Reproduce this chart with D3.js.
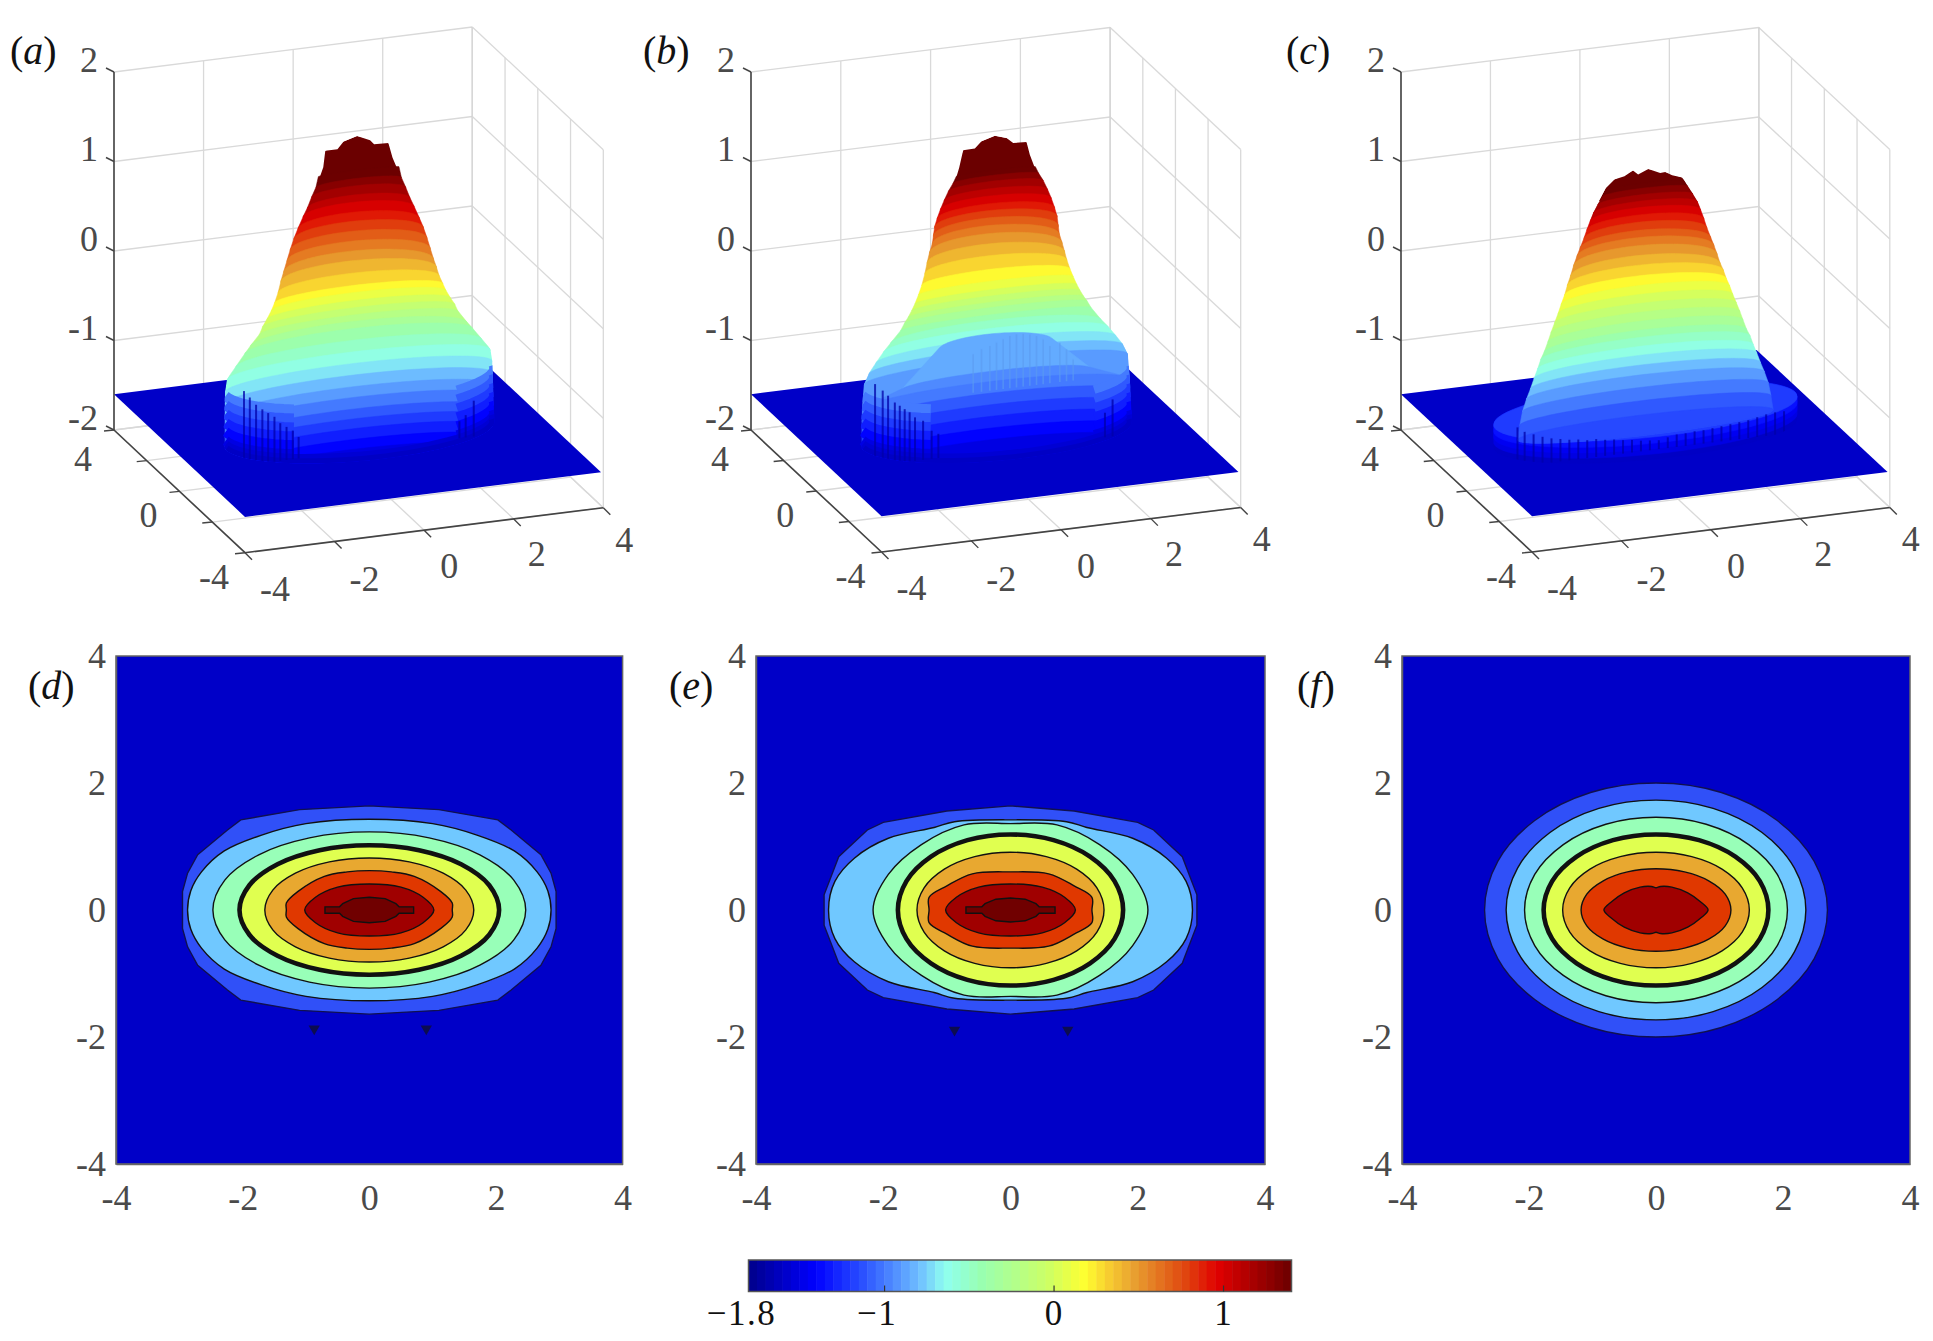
<!DOCTYPE html>
<html>
<head>
<meta charset="utf-8">
<script src="https://cdn.jsdelivr.net/npm/d3@7"></script>
<style>
  html, body { margin: 0; background: #fff; }
  svg { display: block; }
  text { font-family: "Liberation Serif", serif; }
</style>
</head>
<body>
<svg id="chart" width="1933" height="1341"></svg>
<script>
// axis ticks
const tickValuesXY = [-4, -2, 0, 2, 4];
const tickValuesZ = [-2, -1, 0, 1, 2];
const colorbarTicks = [-1.8, -1, 0, 1];

// colormap (fraction along the bar -> colour)
const jetFractions = [0, 0.123, 0.21, 0.316, 0.362, 0.43, 0.55, 0.62, 0.66, 0.71, 0.8, 0.864, 1];
const jetColors = ["#00008a", "#0000ff", "#2a50ff", "#70c0ff", "#8ffff0", "#99ffb0", "#ccff66", "#ffff30", "#f8d030", "#e8a030", "#e04a10", "#e00000", "#6b0000"];
const colorMin = -1.8;
const colorMax = 1.404;
const sheetLevel = -1.6;

// the steep foot of (a) and (b): colour level equals height here
const footLevels = [-1, -1.1, -1.2, -1.3, -1.4, -1.5, -1.55, -1.6];
const footWholeArc = [false, false, false, false, false, false, true, true];

// (a) surface rings, top to bottom: colour level, height, x and y half widths
const ringLevelsA = [1.4, 1.3, 1.2, 1.1, 1, 0.9, 0.8, 0.7, 0.6, 0.5, 0.4, 0.3, 0.2, 0.1, 0, -0.1, -0.2, -0.3, -0.4, -0.5, -0.6, -0.7, -0.8, -0.9, -1, -1.1, -1.2, -1.3, -1.4, -1.5, -1.6];
const ringZA = [1.32, 1.2, 1.09, 0.97, 0.87, 0.74, 0.63, 0.51, 0.39, 0.27, 0.17, 0.06, -0.04, -0.12, -0.21, -0.29, -0.37, -0.5, -0.58, -0.71, -0.84, -0.97, -1.1, -1.23, -1.35, -1.48, -1.59, -1.7, -1.82, -1.93, -2.06];
const ringSemiXA = [0.9, 0.95, 1.04, 1.13, 1.22, 1.33, 1.42, 1.5, 1.57, 1.64, 1.71, 1.78, 1.87, 1.94, 2.04, 2.14, 2.21, 2.4, 2.53, 2.73, 2.93, 2.97, 2.97, 2.97, 2.97, 2.97, 2.97, 2.97, 2.97, 2.97, 2.97];
const ringSemiYA = [0.1, 0.25, 0.4, 0.5, 0.6, 0.7, 0.75, 0.8, 0.85, 0.9, 0.85, 0.7, 0.5, 0.5, 0.5, 0.5, 0.5, 0.8, 0.8, 0.8, 0.8, 0.8, 0.8, 0.8, 0.8, 0.8, 0.8, 0.8, 0.8, 0.8, 0.8];
const capA = [[-0.95, 1.2], [-0.79, 1.42], [-0.745, 1.6], [-0.473, 1.6], [-0.336, 1.68], [-0.036, 1.72], [0.255, 1.655], [0.345, 1.605], [0.664, 1.6], [0.755, 1.43], [0.845, 1.32], [0.95, 1.2]];
const streaksA = [[-2.56, -0.97], [-2.43, -1.05], [-2.29, -1.14], [-2.15, -1.2], [-2.02, -1.25], [-1.88, -1.3], [-1.75, -1.38], [-1.61, -1.43], [-1.47, -1.48], [-1.34, -1.56], [2.57, -1.4], [2.39, -1.55], [2.25, -1.61]];
const baseA = [2.97, 1.65];

// (b)
const ringLevelsB = [1.4, 1.3, 1.2, 1.1, 1, 0.9, 0.8, 0.7, 0.6, 0.5, 0.4, 0.3, 0.2, 0.1, 0, -0.1, -0.2, -0.3, -0.4, -0.5, -0.6, -0.7, -0.8, -0.9, -0.85, -0.95, -1, -1.1, -1.2, -1.3, -1.4, -1.5, -1.6];
const ringZB = [1.32, 1.245, 1.16, 1.06, 0.96, 0.855, 0.76, 0.66, 0.565, 0.465, 0.36, 0.255, 0.14, 0.045, -0.05, -0.12, -0.19, -0.25, -0.33, -0.47, -0.56, -0.67, -0.78, -0.89, -0.62, -1, -1.172, -1.302, -1.432, -1.562, -1.693, -1.823, -1.968];
const ringSemiXB = [0.88, 0.95, 1.05, 1.14, 1.22, 1.29, 1.34, 1.36, 1.38, 1.44, 1.5, 1.56, 1.64, 1.72, 1.8, 1.87, 1.95, 2.03, 2.12, 2.33, 2.49, 2.66, 2.82, 2.93, 1.25, 2.1, 2.97, 2.97, 2.97, 2.97, 2.97, 2.97, 2.97];
const ringSemiYB = [0.1, 0.2, 0.3, 0.4, 0.5, 0.6, 0.7, 0.8, 0.85, 0.9, 0.85, 0.7, 0.5, 0.3, 0.3, 0.3, 0.3, 0.3, 0.3, 0.7, 0.7, 0.7, 0.7, 0.7, 0.7, 0.5, 0.8, 0.8, 0.8, 0.8, 0.8, 0.8, 0.8];
const capB = [[-0.95, 1.2], [-0.817, 1.413], [-0.728, 1.603], [-0.468, 1.606], [-0.319, 1.678], [-0.022, 1.721], [0.238, 1.68], [0.386, 1.615], [0.683, 1.608], [0.757, 1.462], [0.869, 1.306], [0.95, 1.2]];
const streaksB = [[-2.69, -0.887], [-2.52, -0.97], [-2.4, -1.035], [-2.25, -1.12], [-2.14, -1.163], [-2.03, -1.208], [-1.92, -1.25], [-1.8, -1.314], [-1.62, -1.363], [-1.43, -1.486], [-1.28, -1.53], [2.6, -1.387], [2.43, -1.525]];
const domeStreaksB = [[-0.505, -0.69], [-0.32, -0.645], [-0.134, -0.62], [0.015, -0.592], [0.163, -0.564], [0.312, -0.536], [0.46, -0.527], [0.609, -0.529], [0.757, -0.546], [0.906, -0.574], [1.054, -0.62], [1.203, -0.704], [1.425, -0.68], [1.574, -0.764], [1.722, -0.885]];
const baseB = [2.97, 1.65];

// (c) has a low disc under the mound
const discLevelsC = [-1.6, -1.5, -1.45, -1.35, -1.2];
const discZC = [-1.6, -1.54, -1.48, -1.42, -1.35];
const discSemiXC = [3.35, 3.35, 3.35, 3.35, 3.35];
const discSemiYC = [1.6, 1.6, 1.6, 1.6, 1.6];
const ringLevelsC = [1.4, 1.3, 1.2, 1.1, 1, 0.9, 0.8, 0.7, 0.6, 0.5, 0.4, 0.3, 0.2, 0.1, 0, -0.1, -0.2, -0.3, -0.4, -0.5, -0.6, -0.7, -0.8, -0.9, -1, -1.1, -1.15];
const ringZC = [1.175, 1.1, 1.01, 0.92, 0.83, 0.73, 0.63, 0.52, 0.43, 0.33, 0.22, 0.13, 0.03, -0.06, -0.16, -0.26, -0.36, -0.46, -0.57, -0.65, -0.75, -0.85, -0.96, -1.07, -1.2, -1.35, -1.51];
const ringSemiXC = [0.86, 0.95, 1.06, 1.16, 1.22, 1.29, 1.35, 1.43, 1.5, 1.57, 1.64, 1.72, 1.79, 1.87, 1.94, 2.02, 2.1, 2.17, 2.25, 2.33, 2.4, 2.48, 2.56, 2.65, 2.74, 2.8, 2.85];
const ringSemiYC = [0.1, 0.2, 0.3, 0.4, 0.5, 0.6, 0.7, 0.8, 0.85, 0.9, 0.9, 0.8, 0.7, 0.6, 0.6, 0.6, 0.6, 0.6, 0.65, 0.65, 0.65, 0.65, 0.65, 0.65, 0.6, 0.6, 0.6];
const capC = [[-1.04, 1.056], [-0.886, 1.193], [-0.696, 1.275], [-0.468, 1.297], [-0.278, 1.349], [-0.163, 1.297], [0.065, 1.345], [0.331, 1.283], [0.445, 1.288], [0.597, 1.242], [0.825, 1.204], [0.977, 1.057], [1.04, 0.95]];
const streaksC = [[-2.86, -1.36], [-2.7, -1.42], [-2.5, -1.46], [-2.3, -1.5], [-2.1, -1.53], [-1.9, -1.55], [-1.7, -1.57], [-1.5, -1.58], [-1.3, -1.6], [-1.1, -1.6], [-0.9, -1.62], [-0.7, -1.63], [-0.5, -1.65], [-0.3, -1.66], [-0.1, -1.68], [0.1, -1.69], [0.3, -1.7], [0.5, -1.68], [0.7, -1.66], [0.9, -1.66], [1.1, -1.65], [1.3, -1.65], [1.5, -1.64], [1.7, -1.63], [1.9, -1.62], [2.1, -1.61], [2.3, -1.6], [2.5, -1.58], [2.7, -1.56], [2.9, -1.55], [3.1, -1.55]];
const baseC = [3.35, 1.6];

// contour rings: first quadrant only, from (0, b) round to (a, 0), outermost first
const contourFills = ["#3050f8", "#70c8ff", "#98ffb8", "#e0ff50", "#e8a830", "#e03800", "#a00000", "#700000"];
const contoursD = [
  [[0, 1.64], [1.1, 1.58], [2.03, 1.42], [2.24, 1.26], [2.71, 0.87], [2.87, 0.58], [2.95, 0.29], [2.95, 0]],
  [[0, 1.43], [1, 1.36], [1.7, 1.18], [2.29, 0.93], [2.65, 0.6], [2.82, 0.3], [2.87, 0]],
  [[0, 1.23], [0.945, 1.136], [1.746, 0.87], [2.282, 0.471], [2.47, 0]],
  [[0, 1.02], [0.785, 0.942], [1.45, 0.721], [1.894, 0.39], [2.05, 0]],
  [[0, 0.82], [0.631, 0.758], [1.167, 0.58], [1.524, 0.314], [1.65, 0]],
  [[0, 0.62], [0.35, 0.6], [0.71, 0.53], [1.13, 0.29], [1.31, 0.11], [1.31, 0]],
  [[0, 0.41], [0.5, 0.36], [0.85, 0.2], [1.02, 0]],
  [[0, 0.2], [0.25, 0.18], [0.42, 0.1], [0.47, 0.05], [0.7, 0.05], [0.7, 0]],
];
const contoursE = [
  [[0, 1.64], [1, 1.56], [2, 1.38], [2.25, 1.26], [2.7, 0.84], [2.83, 0.5], [2.93, 0.24], [2.93, 0]],
  [[0, 1.42], [0.88, 1.39], [1.2, 1.3], [1.92, 1.13], [2.45, 0.82], [2.76, 0.45], [2.86, 0]],
  [[0, 1.36], [0.73, 1.34], [1.4, 1.03], [1.92, 0.56], [2.16, 0]],
  [[0, 1.19], [0.677, 1.1], [1.25, 0.84], [1.635, 0.455], [1.77, 0]],
  [[0, 0.91], [0.563, 0.84], [1.04, 0.643], [1.358, 0.348], [1.47, 0]],
  [[0, 0.6], [0.6, 0.57], [1, 0.38], [1.28, 0.2], [1.28, 0]],
  [[0, 0.41], [0.5, 0.36], [0.85, 0.2], [1.02, 0]],
  [[0, 0.19], [0.23, 0.17], [0.4, 0.1], [0.45, 0.05], [0.7, 0.05], [0.7, 0]],
];
const contoursF = [
  [[0, 2], [1.03, 1.85], [1.91, 1.41], [2.49, 0.77], [2.7, 0]],
  [[0, 1.73], [0.9, 1.6], [1.67, 1.22], [2.18, 0.66], [2.36, 0]],
  [[0, 1.46], [0.79, 1.35], [1.46, 1.03], [1.91, 0.56], [2.07, 0]],
  [[0, 1.19], [0.677, 1.1], [1.25, 0.84], [1.635, 0.455], [1.77, 0]],
  [[0, 0.91], [0.563, 0.84], [1.04, 0.643], [1.358, 0.348], [1.47, 0]],
  [[0, 0.65], [0.45, 0.6], [0.83, 0.46], [1.09, 0.25], [1.18, 0]],
  [[0, 0.35], [0.07, 0.37], [0.25, 0.36], [0.5, 0.27], [0.7, 0.13], [0.82, 0]],
];
const specksD = [[-0.87, -1.87], [0.9, -1.87]];
const specksE = [[-0.88, -1.89], [0.9, -1.89]];

const jet = d3.scaleLinear()
  .domain(jetFractions.map((f) => colorMin + f * (colorMax - colorMin)))
  .range(jetColors)
  .clamp(true);

const svg = d3.select("#chart");
svg.append("rect").attr("width", 1933).attr("height", 1341).attr("fill", "#fff");

const labelColor = "#4a4a4a";
const gridColor = "#d9d9d9";
const axisColor = "#444";
const sheetColor = "#0000c8";

// small nudges so labels sit where the original put them
const xLabelOffsets = [[30, 36], [30, 38], [25, 36], [23, 35], [21, 32]];
const yLabelDy = [24, 24, 29];

function panelLabel(x, y, letter) {
  const t = svg.append("text").attr("x", x).attr("y", y).attr("font-size", 40).attr("fill", "#111");
  t.append("tspan").text("(");
  t.append("tspan").attr("font-style", "italic").text(letter);
  t.append("tspan").text(")");
}

let clipCount = 0;

// frame is the three floor corners of the box in pixels plus pixels per z unit
function drawSurface(p) {
  const g = svg.append("g");
  const xToX = d3.scaleLinear().domain([-4, 4]).range([0, p.right[0] - p.front[0]]);
  const xToY = d3.scaleLinear().domain([-4, 4]).range([0, p.right[1] - p.front[1]]);
  const yToX = d3.scaleLinear().domain([-4, 4]).range([0, p.left[0] - p.front[0]]);
  const yToY = d3.scaleLinear().domain([-4, 4]).range([0, p.left[1] - p.front[1]]);
  const zToY = d3.scaleLinear().domain([-2, 2]).range([0, -p.zSpan]);
  const project = (x, y, z) => [
    p.front[0] + xToX(x) + yToX(y),
    p.front[1] + xToY(x) + yToY(y) + zToY(z),
  ];
  const line = d3.line();

  const seg = (parent, a, b, color, w) =>
    parent.append("line")
      .attr("x1", a[0]).attr("y1", a[1])
      .attr("x2", b[0]).attr("y2", b[1])
      .attr("stroke", color).attr("stroke-width", w);

  // walls and floor grid
  tickValuesZ.forEach((z) => {
    seg(g, project(-4, 4, z), project(4, 4, z), gridColor, 1.3);
    seg(g, project(4, 4, z), project(4, -4, z), gridColor, 1.3);
  });
  tickValuesXY.forEach((v) => {
    seg(g, project(v, 4, -2), project(v, 4, 2), v === 4 ? "#c4c4c4" : gridColor, 1.3);
    seg(g, project(4, v, -2), project(4, v, 2), gridColor, 1.3);
    seg(g, project(v, -4, -2), project(v, 4, -2), gridColor, 1.3);
    seg(g, project(-4, v, -2), project(4, v, -2), gridColor, 1.3);
  });

  // flat part of the surface
  const sheet = [project(-4, -4, sheetLevel), project(3.95, -4, sheetLevel), project(3.95, 4, sheetLevel), project(-4, 4, sheetLevel)];
  g.append("path").attr("d", line(sheet) + "Z").attr("fill", sheetColor);

  const outline = (z, a, b) =>
    d3.range(0, 72).map((i) => {
      const t = (i / 72) * 2 * Math.PI;
      return project(a * Math.cos(t), b * Math.sin(t), z);
    });

  // the mound never reaches past its foot on the sheet
  const capPoints = p.cap.map((d) => project(d[0], 0, d[1]));
  const clipId = "mound" + clipCount++;
  const clipPts = [...outline(sheetLevel, p.base[0], p.base[1]), ...capPoints];
  p.levels.forEach((l, i) => {
    if (p.z[i] > sheetLevel) clipPts.push(...outline(p.z[i], p.semiX[i], p.semiY[i]));
  });
  if (p.underLevels) {
    p.underLevels.forEach((l, i) => clipPts.push(...outline(p.underZ[i], p.underX[i], p.underY[i])));
  }
  g.append("clipPath").attr("id", clipId).append("path").attr("d", line(d3.polygonHull(clipPts)) + "Z");
  const mound = g.append("g").attr("clip-path", `url(#${clipId})`);

  // each band runs from its ring down to the next ring at least as wide
  const stack = (levels, z, sx, sy) => {
    const rings = levels.map((l, i) => outline(z[i], sx[i], sy[i]));
    levels.forEach((l, i) => {
      const next = d3.range(i + 1, levels.length).find((j) => sx[j] >= sx[i]);
      const pts = next === undefined ? rings[i] : d3.polygonHull([...rings[i], ...rings[next]]);
      const c = jet(l);
      mound.append("path").attr("d", line(pts) + "Z").attr("fill", c).attr("stroke", c).attr("stroke-width", 0.5);
    });
  };

  if (p.underLevels) stack(p.underLevels, p.underZ, p.underX, p.underY);

  // peak outline sits behind the rings
  mound.append("path").attr("d", line(capPoints) + "Z").attr("fill", jet(colorMax));

  stack(p.levels, p.z, p.semiX, p.semiY);

  // darker foot along the front of the wall: outer parts only, except right at the sheet
  if (p.foot) {
    p.foot.forEach((l, i) => {
      const pts = outline(l, p.base[0], p.base[1]);
      const arcs = footWholeArc[i] ? [pts.slice(36, 72)] : [pts.slice(36, 47), pts.slice(61, 72)];
      arcs.forEach((a) =>
        mound.append("path").attr("d", line(a)).attr("fill", "none")
          .attr("stroke", jet(l)).attr("stroke-width", 10));
    });
  }

  if (p.domeStreaks) {
    p.domeStreaks.forEach((d) =>
      seg(mound, project(d[0], 0, d[1]), project(d[0], 0, -1.12), "#5c9cf0", 1.6).attr("opacity", 0.6));
  }
  p.streaks.forEach((d) =>
    seg(mound, project(d[0], 0, d[1]), project(d[0], 0, -1.8), "#0000a8", 2).attr("opacity", 0.75));

  // axes
  seg(g, project(-4, 4, -2), project(-4, 4, 2), axisColor, 1.6);
  seg(g, project(-4, -4, -2), project(-4, 4, -2), axisColor, 1.6);
  seg(g, project(-4, -4, -2), project(4, -4, -2), axisColor, 1.6);

  const small = (a, dx, dy) => seg(g, a, [a[0] + dx, a[1] + dy], axisColor, 1.4);
  tickValuesZ.forEach((z) => small(project(-4, 4, z), -8, -4));
  tickValuesXY.forEach((v) => {
    small(project(-4, v, -2), -10, 1);
    small(project(v, -4, -2), 7, 7);
  });

  const label = (x, y, s) =>
    g.append("text").attr("x", x).attr("y", y).attr("font-size", 36)
      .attr("fill", labelColor).attr("text-anchor", "middle").attr("dy", "0.33em").text(s);
  tickValuesZ.forEach((z) => {
    const q = project(-4, 4, z);
    g.append("text").attr("x", q[0] - 16).attr("y", q[1] - 12).attr("font-size", 36)
      .attr("fill", labelColor).attr("text-anchor", "end").attr("dy", "0.33em").text(z);
  });
  [-4, 0, 4].forEach((v, i) => {
    const q = project(-4, v, -2);
    label(q[0] - 31, q[1] + yLabelDy[i], v);
  });
  tickValuesXY.forEach((v, i) => {
    const q = project(v, -4, -2);
    label(q[0] + xLabelOffsets[i][0], q[1] + xLabelOffsets[i][1], v);
  });
}

function drawContour(p) {
  const x = d3.scaleLinear().domain([-4, 4]).range([p.x0, p.x1]);
  const y = d3.scaleLinear().domain([-4, 4]).range([p.y1, p.y0]);
  const g = svg.append("g");

  g.append("rect")
    .attr("x", p.x0).attr("y", p.y0)
    .attr("width", p.x1 - p.x0).attr("height", p.y1 - p.y0)
    .attr("fill", sheetColor);

  const mirrored = (q) => [
    ...q.map((d) => [d[0], d[1]]),
    ...q.slice(0, -1).reverse().map((d) => [d[0], -d[1]]),
    ...q.slice(1).map((d) => [-d[0], -d[1]]),
    ...q.slice(1, -1).reverse().map((d) => [-d[0], d[1]]),
  ];
  const smooth = d3.line().x((d) => x(d[0])).y((d) => y(d[1])).curve(d3.curveCatmullRomClosed.alpha(0.5));
  const straight = d3.line().x((d) => x(d[0])).y((d) => y(d[1])).curve(d3.curveLinearClosed);

  p.rings.forEach((q, i) => {
    const polygonal = p.straight.includes(i);
    g.append("path")
      .attr("d", (polygonal ? straight : smooth)(mirrored(q)))
      .attr("fill", contourFills[i])
      .attr("stroke", i === 0 ? "#101050" : "#111")
      .attr("stroke-width", i === 3 ? 4.6 : 1.4);
  });

  (p.specks || []).forEach((d) => {
    g.append("path")
      .attr("d", d3.symbol(d3.symbolTriangle, 55)())
      .attr("transform", `translate(${x(d[0])},${y(d[1])}) rotate(180)`)
      .attr("fill", "#0c0c50");
  });

  const yAxis = g.append("g").attr("transform", `translate(${p.x0},0)`)
    .call(d3.axisLeft(y).tickValues(tickValuesXY).tickSize(0).tickPadding(10).tickFormat((d) => String(d)));
  const xAxis = g.append("g").attr("transform", `translate(0,${p.y1})`)
    .call(d3.axisBottom(x).tickValues(tickValuesXY).tickSize(0).tickPadding(20).tickFormat((d) => String(d)));
  [yAxis, xAxis].forEach((a) => {
    a.select(".domain").attr("stroke", "#666").attr("stroke-width", 1.5);
    a.selectAll("text").attr("font-size", 36).attr("fill", labelColor).attr("font-family", '"Liberation Serif", serif');
  });
  g.append("rect")
    .attr("x", p.x0).attr("y", p.y0)
    .attr("width", p.x1 - p.x0).attr("height", p.y1 - p.y0)
    .attr("fill", "none").attr("stroke", "#666").attr("stroke-width", 1.5);
}

drawSurface({
  left: [114, 430], front: [245, 552.7], right: [603.3, 507.7], zSpan: 358,
  levels: ringLevelsA, z: ringZA, semiX: ringSemiXA, semiY: ringSemiYA,
  cap: capA, streaks: streaksA, base: baseA, foot: footLevels,
});
drawSurface({
  left: [751, 430], front: [881.5, 552], right: [1240.7, 507.5], zSpan: 358,
  levels: ringLevelsB, z: ringZB, semiX: ringSemiXB, semiY: ringSemiYB,
  cap: capB, streaks: streaksB, domeStreaks: domeStreaksB, base: baseB, foot: footLevels,
});
drawSurface({
  left: [1401, 430], front: [1532, 552], right: [1889.8, 507.5], zSpan: 358,
  levels: ringLevelsC, z: ringZC, semiX: ringSemiXC, semiY: ringSemiYC,
  underLevels: discLevelsC, underZ: discZC, underX: discSemiXC, underY: discSemiYC,
  cap: capC, streaks: streaksC, base: baseC,
});

drawContour({ x0: 116, x1: 622.6, y0: 656, y1: 1164, rings: contoursD, straight: [0, 7], specks: specksD });
drawContour({ x0: 756, x1: 1265, y0: 656, y1: 1164, rings: contoursE, straight: [0, 7], specks: specksE });
drawContour({ x0: 1402, x1: 1910, y0: 656, y1: 1164, rings: contoursF, straight: [] });

panelLabel(10, 64, "a");
panelLabel(643, 64, "b");
panelLabel(1286, 64, "c");
panelLabel(28, 699, "d");
panelLabel(669, 699, "e");
panelLabel(1297, 699, "f");

// colorbar, 64 steps like the original colormap
const barX = d3.scaleLinear().domain([colorMin, colorMax]).range([748.5, 1291.5]);
const barTop = 1260;
const barBottom = 1291.5;
const barG = svg.append("g");
const stepCount = 64;
const barSteps = d3.range(stepCount);
barG.selectAll("rect.step").data(barSteps).join("rect")
  .attr("class", "step")
  .attr("x", (i) => barX(colorMin + (i / stepCount) * (colorMax - colorMin)))
  .attr("y", barTop)
  .attr("width", (barX(colorMax) - barX(colorMin)) / stepCount + 0.5)
  .attr("height", barBottom - barTop)
  .attr("fill", (i) => jet(colorMin + ((i + 0.5) / stepCount) * (colorMax - colorMin)));
barG.append("rect")
  .attr("x", barX(colorMin)).attr("y", barTop)
  .attr("width", barX(colorMax) - barX(colorMin)).attr("height", barBottom - barTop)
  .attr("fill", "none").attr("stroke", "#555").attr("stroke-width", 1.5);
const barAxis = barG.append("g").attr("transform", `translate(0,${barBottom})`)
  .call(d3.axisTop(barX).tickValues(colorbarTicks.slice(1)).tickSize(6).tickFormat(""));
barAxis.select(".domain").remove();
barAxis.selectAll("line").attr("stroke", "#333").attr("stroke-width", 1.2);
barG.selectAll("text.barlabel").data(colorbarTicks).join("text")
  .attr("class", "barlabel")
  .attr("x", (d) => barX(d) - (d < 0 ? 7 : 0))
  .attr("y", 1325)
  .attr("text-anchor", "middle")
  .attr("font-size", 35)
  .attr("letter-spacing", (d) => (d < 0 ? 1.5 : 0))
  .attr("fill", "#111")
  .text((d) => (d < 0 ? "\u2212" + Math.abs(d) : d));
</script>
</body>
</html>
